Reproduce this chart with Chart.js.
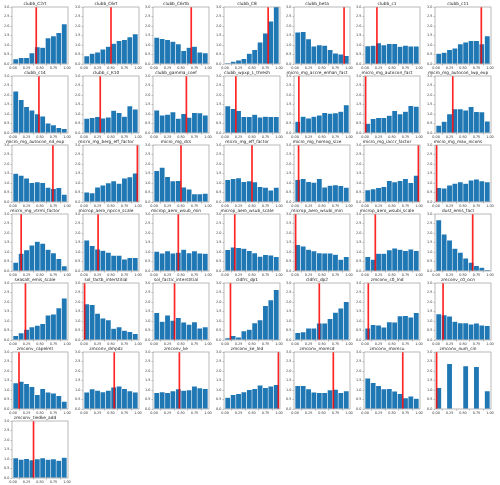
<!DOCTYPE html>
<html lang="en">

<head>
    <meta charset="UTF-8" />
    <title>Histograms</title>
    <style>
        body {
            margin: 0;
            background: #fff;
        }

        #grid {
            position: relative;
            width: 500px;
            height: 485px;
            overflow: hidden;
        }

        #grid canvas {
            position: absolute;
        }
    </style>
</head>

<body>
    <div id="grid"></div>

    <script src="https://cdn.jsdelivr.net/npm/chart.js"></script>

    <script>
        // data
        const panelNames = [
            "clubb_C2rt", "clubb_C6rt", "clubb_C6rtb", "clubb_C8", "clubb_beta", "clubb_c1", "clubb_c11",
            "clubb_c14", "clubb_c_K10", "clubb_gamma_coef", "clubb_wpxp_L_thresh", "micro_mg_accre_enhan_fact", "micro_mg_autocon_fact", "micro_mg_autocon_lwp_exp",
            "micro_mg_autocon_nd_exp", "micro_mg_berg_eff_factor", "micro_mg_dcs", "micro_mg_eff_factor", "micro_mg_homog_size", "micro_mg_iaccr_factor", "micro_mg_max_nicons",
            "micro_mg_vtrmi_factor", "microp_aero_npccn_scale", "microp_aero_wsub_min", "microp_aero_wsub_scale", "microp_aero_wsubi_min", "microp_aero_wsubi_scale", "dust_emis_fact",
            "seasalt_emis_scale", "sol_factb_interstitial", "sol_factic_interstitial", "cldfrc_dp1", "cldfrc_dp2", "zmconv_c0_lnd", "zmconv_c0_ocn",
            "zmconv_capelmt", "zmconv_dmpdz", "zmconv_ke", "zmconv_ke_lnd", "zmconv_momcd", "zmconv_momcu", "zmconv_num_cin",
            "zmconv_tiedke_add",
        ];

        // density of each of the 10 bins, one row per panel
        const binHeights = [
            [0.27, 0.33, 0.33, 0.58, 0.90, 0.87, 1.37, 1.47, 1.65, 2.10],
            [0.42, 0.55, 0.62, 0.78, 0.92, 1.08, 1.22, 1.28, 1.42, 1.58],
            [1.40, 1.33, 1.28, 1.18, 1.05, 0.70, 0.87, 0.92, 0.62, 0.58],
            [0.03, 0.13, 0.20, 0.28, 0.55, 0.75, 1.15, 1.62, 2.25, 3.10],
            [1.67, 1.70, 1.32, 0.93, 1.00, 0.98, 0.75, 0.57, 0.52, 0.43],
            [0.95, 0.97, 1.10, 1.00, 1.07, 1.07, 0.92, 0.98, 0.93, 0.93],
            [0.55, 0.60, 0.75, 0.83, 1.05, 1.15, 1.22, 1.22, 1.05, 1.48],
            [2.20, 1.75, 1.38, 1.20, 1.00, 0.88, 0.52, 0.42, 0.28, 0.23],
            [0.77, 0.80, 0.85, 0.78, 0.83, 1.18, 1.07, 0.87, 1.42, 1.25],
            [1.20, 0.93, 0.98, 1.10, 0.77, 1.02, 0.82, 1.07, 1.05, 0.93],
            [1.42, 1.28, 1.17, 0.85, 0.85, 0.97, 0.83, 0.87, 0.85, 0.85],
            [0.60, 0.87, 0.78, 0.87, 0.93, 1.07, 1.03, 1.05, 1.13, 1.48],
            [0.50, 0.75, 0.80, 0.80, 0.92, 1.17, 1.00, 1.13, 1.43, 1.40],
            [0.40, 0.60, 1.00, 1.27, 1.27, 1.20, 1.38, 1.12, 1.10, 0.62],
            [1.50, 1.40, 1.25, 1.02, 1.05, 1.02, 0.77, 0.70, 0.75, 0.40],
            [0.52, 0.48, 0.78, 0.88, 1.00, 1.10, 0.98, 1.25, 1.32, 1.52],
            [1.65, 1.82, 1.33, 1.10, 1.12, 0.78, 0.67, 0.42, 0.42, 0.45],
            [1.17, 1.22, 1.27, 1.07, 1.10, 1.05, 0.80, 0.77, 0.62, 0.77],
            [1.17, 1.22, 1.07, 1.03, 1.22, 0.78, 0.87, 0.90, 0.85, 0.77],
            [0.63, 0.68, 0.75, 0.80, 1.12, 1.05, 1.12, 1.23, 1.02, 1.40],
            [0.75, 0.72, 0.88, 0.98, 1.05, 0.97, 1.15, 1.20, 1.10, 1.05],
            [0.45, 0.92, 1.10, 1.35, 1.55, 1.45, 1.13, 0.95, 0.65, 0.27],
            [1.62, 1.33, 1.15, 1.08, 0.98, 0.82, 0.82, 0.62, 0.70, 0.70],
            [1.03, 0.93, 1.05, 0.93, 0.97, 1.13, 0.95, 1.05, 0.93, 0.92],
            [1.12, 1.25, 1.22, 1.18, 1.07, 0.95, 0.77, 0.85, 0.83, 0.75],
            [1.38, 1.30, 1.13, 1.05, 0.95, 0.93, 0.93, 0.87, 0.60, 0.75],
            [0.75, 0.60, 0.92, 0.92, 1.10, 1.20, 1.13, 1.07, 1.15, 1.07],
            [2.68, 1.93, 1.62, 1.18, 0.98, 0.67, 0.45, 0.28, 0.18, 0.05],
            [0.22, 0.37, 0.55, 0.68, 0.77, 0.85, 1.30, 1.35, 1.68, 2.20],
            [1.90, 1.85, 1.40, 1.15, 1.05, 0.60, 0.68, 0.50, 0.43, 0.33],
            [1.43, 0.97, 1.30, 1.03, 1.17, 0.93, 0.82, 0.95, 0.62, 0.68],
            [0.10, 0.22, 0.15, 0.47, 0.55, 0.90, 1.05, 1.80, 2.10, 2.65],
            [0.38, 0.42, 0.62, 0.62, 0.88, 0.88, 1.12, 1.45, 1.67, 2.02],
            [0.62, 0.80, 0.78, 0.67, 0.95, 0.93, 1.27, 1.28, 1.20, 1.43],
            [1.37, 1.32, 1.25, 0.97, 0.90, 0.90, 0.83, 0.88, 0.78, 0.75],
            [1.37, 1.45, 1.33, 1.17, 0.75, 1.07, 0.88, 0.83, 0.70, 0.40],
            [0.88, 1.05, 0.98, 0.90, 0.98, 1.15, 1.20, 1.07, 0.95, 0.88],
            [0.85, 0.90, 0.85, 0.95, 1.05, 0.97, 1.00, 1.20, 1.10, 1.07],
            [0.60, 0.75, 0.80, 0.90, 1.02, 1.07, 1.25, 1.12, 1.20, 1.28],
            [1.22, 1.22, 1.05, 0.88, 0.85, 0.85, 1.00, 1.03, 0.85, 0.95],
            [1.62, 1.38, 1.23, 1.05, 1.07, 0.93, 0.80, 0.58, 0.67, 0.55],
            [1.12, 0.00, 2.38, 0.00, 0.00, 2.27, 0.00, 2.23, 0.00, 0.95],
            [1.05, 0.98, 1.02, 0.95, 1.00, 1.05, 0.97, 1.00, 0.92, 1.08],
        ];

        // red marker (default value) per panel
        const markerValues = [
            0.43, 0.50, 0.69, 0.80, 0.91, 0.22, 0.84,
            0.48, 0.30, 0.60, 0.20, 0.07, 0.01, 0.31,
            0.74, 0.99, 0.50, 0.50, 0.065, 0.99, 0.01,
            0.15, 0.26, 0.45, 0.18, 0.01, 0.19, 0.68,
            0.23, 0.01, 0.38, 0.10, 0.45, 0.06, 0.13,
            0.11, 0.56, 0.47, 0.99, 0.71, 0.70, 0.01,
            0.38,
        ];

        const binCenters = [0.05, 0.15, 0.25, 0.35, 0.45, 0.55, 0.65, 0.75, 0.85, 0.95];
        const xTickValues = [0, 0.25, 0.5, 0.75, 1];
        const yTickValues = [0, 0.5, 1, 1.5, 2, 2.5, 3];

        // layout of the 7 x 7 grid (pixels)
        const nCols = 7;
        const colPitch = 70.4;
        const rowPitch = 69;
        const yAxisW = 10;
        const titleH = 6;
        const xAxisH = 7;
        const rightPad = 4;
        const cellW = 70;
        const cellH = 70;

        Chart.defaults.font.family = "'DejaVu Sans', sans-serif";
        Chart.defaults.animation = false;

        // matplotlib style box round the axes
        const frame = {
            id: "frame",
            afterDatasetsDraw(chart) {
                const a = chart.chartArea;
                const ctx = chart.ctx;
                ctx.save();
                ctx.strokeStyle = "#a8a8a8";
                ctx.lineWidth = 0.8;
                ctx.strokeRect(a.left, a.top, a.right - a.left, a.bottom - a.top);
                ctx.restore();
            },
        };

        const grid = document.getElementById("grid");

        panelNames.forEach((name, i) => {
            const col = i % nCols;
            const row = Math.floor(i / nCols);

            const canvas = document.createElement("canvas");
            canvas.width = cellW;
            canvas.height = cellH;
            canvas.style.left = (12.3 - yAxisW + col * colPitch) + "px";
            canvas.style.top = (6.7 - titleH + row * rowPitch) + "px";
            grid.appendChild(canvas);

            const bars = binHeights[i].map((v, k) => ({ x: binCenters[k], y: v }));
            const marker = [
                { x: markerValues[i], y: 0 },
                { x: markerValues[i], y: 3 },
            ];

            new Chart(canvas, {
                type: "bar",
                data: {
                    datasets: [
                        {
                            data: bars,
                            backgroundColor: "#1f77b4",
                            borderColor: "rgba(255,255,255,0.45)",
                            borderWidth: 0.6,
                            barPercentage: 1,
                            categoryPercentage: 1,
                            order: 2,
                        },
                        {
                            type: "line",
                            data: marker,
                            borderColor: "rgba(255,0,0,0.85)",
                            borderWidth: 1.7,
                            pointRadius: 0,
                            order: 1,
                        },
                    ],
                },
                options: {
                    responsive: false,
                    devicePixelRatio: 1,
                    layout: { padding: { left: 0, top: 0, right: rightPad, bottom: 0 } },
                    plugins: {
                        legend: { display: false },
                        tooltip: { enabled: false },
                        title: {
                            display: true,
                            text: name,
                            color: "#222",
                            font: { size: 4.3, weight: "normal", lineHeight: 1 },
                            padding: { top: 0.7, bottom: 1 },
                        },
                    },
                    scales: {
                        x: {
                            type: "linear",
                            min: -0.02,
                            max: 1.02,
                            offset: false,
                            border: { display: false },
                            grid: { drawOnChartArea: false, drawTicks: true, tickLength: 1.5, color: "#777", lineWidth: 0.5 },
                            ticks: {
                                padding: 0.5,
                                color: "#333",
                                font: { size: 3.4, lineHeight: 1 },
                                maxRotation: 0,
                                autoSkip: false,
                                callback: (v) => Number(v).toFixed(2),
                            },
                            afterBuildTicks: (s) => {
                                s.ticks = xTickValues.map((v) => ({ value: v }));
                            },
                            afterFit: (s) => {
                                s.height = xAxisH;
                                s.paddingLeft = 0;
                                s.paddingRight = 0;
                            },
                        },
                        y: {
                            min: 0,
                            max: 3,
                            border: { display: false },
                            grid: { drawOnChartArea: false, drawTicks: true, tickLength: 1.5, color: "#777", lineWidth: 0.5 },
                            ticks: {
                                padding: 1,
                                color: "#333",
                                font: { size: 3.4, lineHeight: 1 },
                                autoSkip: false,
                                callback: (v) => Number(v).toFixed(1),
                            },
                            afterBuildTicks: (s) => {
                                s.ticks = yTickValues.map((v) => ({ value: v }));
                            },
                            afterFit: (s) => {
                                s.width = yAxisW;
                                s.paddingTop = 0;
                                s.paddingBottom = 0;
                            },
                        },
                    },
                },
                plugins: [frame],
            });
        });
    </script>
</body>

</html>
